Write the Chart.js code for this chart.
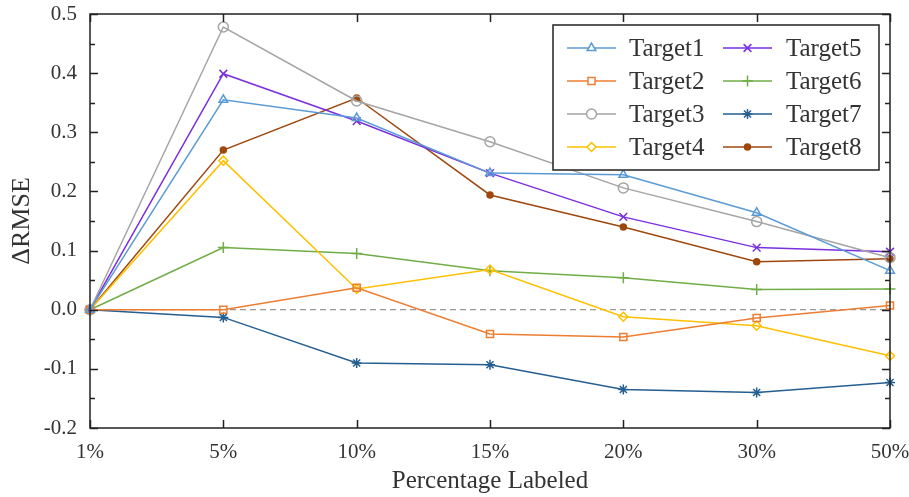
<!DOCTYPE html>
<html><head><meta charset="utf-8">
<script src="https://cdn.jsdelivr.net/npm/chart.js"></script>
<style>html,body{margin:0;padding:0;background:#fff}#wrap{width:909px;height:497px}</style>
</head><body><div id="wrap"><canvas id="c" width="909" height="497"></canvas></div>
<script>
const categories = ['1%','5%','10%','15%','20%','30%','50%'];
const target1 = [0, 0.355, 0.324, 0.231, 0.228, 0.164, 0.066];
const target2 = [0, 0.000, 0.037, -0.041, -0.046, -0.014, 0.007];
const target3 = [0, 0.478, 0.353, 0.284, 0.206, 0.149, 0.088];
const target4 = [0, 0.252, 0.035, 0.068, -0.012, -0.027, -0.078];
const target5 = [0, 0.399, 0.319, 0.231, 0.157, 0.105, 0.098];
const target6 = [0, 0.105, 0.095, 0.066, 0.054, 0.034, 0.035];
const target7 = [0, -0.013, -0.090, -0.093, -0.135, -0.140, -0.123];
const target8 = [0, 0.270, 0.358, 0.194, 0.140, 0.081, 0.086];
const yTicks = [-0.2,-0.1,0.0,0.1,0.2,0.3,0.4,0.5];
const seriesNames = ['Target1','Target2','Target3','Target4','Target5','Target6','Target7','Target8'];
const seriesData = [target1,target2,target3,target4,target5,target6,target7,target8];
const colors = ['#5b9bd5','#ed7d31','#a5a5a5','#ffc000','#7a2fe0','#70ad47','#255e91','#9e480e'];
const styles = ['triangle','rect','circle','rectRot','crossRot','cross','star','circle'];
const radii = [5,5,5,4.5,5.5,5.5,5,3];
const FONT = "'Liberation Serif','Times New Roman',serif";
const TXT = '#333';

const datasets = seriesNames.map((n,i)=>({
  label:n, data:seriesData[i], borderColor:colors[i], backgroundColor: i===7?colors[i]:'rgba(255,255,255,0)',
  pointBorderColor:colors[i], pointBackgroundColor: i===7?colors[i]:'rgba(255,255,255,0)',
  pointStyle:styles[i], pointRadius:radii[i], pointBorderWidth:1.5, borderWidth:1.5, tension:0, clip:false
}));

function drawMarker(ctx, style, r, x, y, color, fill){
  ctx.save();
  ctx.strokeStyle=color; ctx.fillStyle=fill; ctx.lineWidth=1.5;
  if (Chart.helpers && Chart.helpers.drawPoint){
    Chart.helpers.drawPoint(ctx,{pointStyle:style,radius:r,borderWidth:1.5,rotation:0},x,y);
  }
  ctx.restore();
}

const framePlugin = {
  id:'frame',
  beforeDatasetsDraw(chart){
    const {ctx, chartArea:a, scales:{y}} = chart;
    ctx.save();
    ctx.strokeStyle='#999'; ctx.lineWidth=1.2; ctx.setLineDash([6,4]);
    const yy=y.getPixelForValue(0);
    ctx.beginPath(); ctx.moveTo(a.left,yy); ctx.lineTo(a.right,yy); ctx.stroke();
    ctx.restore();
  },
  afterDraw(chart){
    const {ctx, chartArea:a, scales:{x,y}} = chart;
    ctx.save();
    ctx.strokeStyle='#222'; ctx.lineWidth=1.5;
    ctx.strokeRect(a.left,a.top,a.right-a.left,a.bottom-a.top);
    ctx.beginPath();
    for(let v=-0.2; v<=0.5001; v+=0.05){
      const major = Math.abs(Math.round(v*10)-v*10)<1e-6;
      const L = major?8:5;
      const py = Math.round(y.getPixelForValue(v))+0.5;
      ctx.moveTo(a.left,py); ctx.lineTo(a.left+L,py);
      ctx.moveTo(a.right,py); ctx.lineTo(a.right-L,py);
    }
    categories.forEach((c,i)=>{
      const px = Math.round(x.getPixelForValue(i))+0.5;
      ctx.moveTo(px,a.bottom); ctx.lineTo(px,a.bottom-8);
      ctx.moveTo(px,a.top); ctx.lineTo(px,a.top+8);
    });
    ctx.stroke();
    // axis titles
    ctx.fillStyle=TXT; ctx.font="25px "+FONT; ctx.textAlign='center'; ctx.textBaseline='middle';
    ctx.fillText('Percentage Labeled',(a.left+a.right)/2,481);
    ctx.save(); ctx.translate(22,221); ctx.rotate(-Math.PI/2);
    ctx.font="26px "+FONT;
    ctx.fillText('\u0394RMSE',0,0); ctx.restore();
    // legend
    const bx=553, by=25, bw=326, bh=145;
    ctx.fillStyle='#fff'; ctx.fillRect(bx,by,bw,bh);
    ctx.strokeStyle='#222'; ctx.lineWidth=1.5; ctx.strokeRect(bx,by,bw,bh);
    ctx.font="25px "+FONT; ctx.textAlign='left'; ctx.textBaseline='middle';
    chart.data.datasets.forEach((d,i)=>{
      const col = Math.floor(i/4), row=i%4;
      const ly = 48 + row*33;
      const lx0 = col===0?567:723;
      ctx.strokeStyle=d.borderColor; ctx.lineWidth=1.5;
      ctx.beginPath(); ctx.moveTo(lx0,ly); ctx.lineTo(lx0+49,ly); ctx.stroke();
      drawMarker(ctx,d.pointStyle,d.pointRadius,lx0+24.5,ly,d.borderColor,d.pointBackgroundColor==='rgba(255,255,255,0)'?'#fff':d.pointBackgroundColor);
      ctx.fillStyle=TXT;
      ctx.fillText(d.label, col===0?629:786, ly+1);
    });
    ctx.restore();
  }
};

new Chart(document.getElementById('c'),{
  type:'line',
  data:{labels:categories, datasets},
  options:{
    responsive:false, animation:false, devicePixelRatio:1,
    layout:{padding:{left:0,top:0,right:0,bottom:0}},
    plugins:{legend:{display:false},tooltip:{enabled:false}},
    scales:{
      x:{type:'category', offset:false, grid:{display:false}, border:{display:false},
        ticks:{color:TXT, font:{family:FONT,size:21}, padding:4, maxRotation:0, autoSkip:false},
        afterFit(s){s.height=69; s.paddingRight=19;}},
      y:{min:-0.2,max:0.5, grid:{display:false}, border:{display:false},
        afterBuildTicks(s){s.ticks=yTicks.map(v=>({value:v}));},
        ticks:{color:TXT, font:{family:FONT,size:21}, padding:5, callback:v=>Number(v).toFixed(1)},
        afterFit(s){s.width=90; s.paddingTop=14;}}
    }
  },
  plugins:[framePlugin]
});
</script></body></html>
